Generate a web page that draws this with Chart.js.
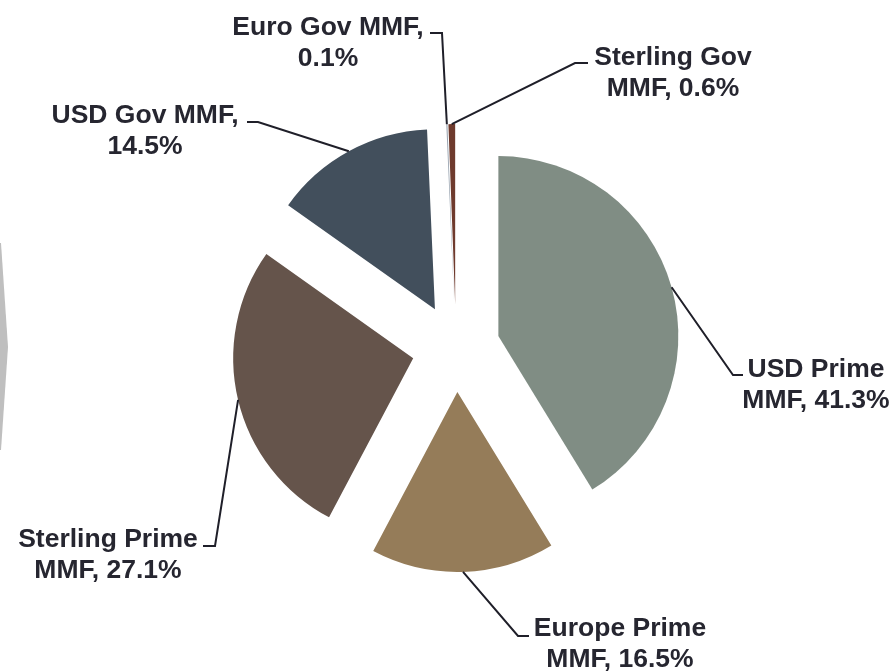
<!DOCTYPE html>
<html><head><meta charset="utf-8">
<script src="https://cdn.jsdelivr.net/npm/chart.js@4.4.1/dist/chart.umd.min.js"></script>
<style>html,body{margin:0;padding:0;background:#fff;} canvas{display:block;}</style>
</head><body>
<canvas id="c" width="895" height="671"></canvas>
<script>
// ---- data ----
const categories = ['USD Prime MMF', 'Europe Prime MMF', 'Sterling Prime MMF', 'USD Gov MMF', 'Euro Gov MMF', 'Sterling Gov MMF'];
const shares = [41.3, 16.5, 27.1, 14.5, 0.1, 0.6];
const sliceColors = ['#808D84', '#957C59', '#65544B', '#424F5C', '#9AA5B1', '#6E3A2D'];

// ---- label layout (positions only) ----
const labelLayout = [
  { cx: 816, y: 377, breakAt: 2, elbow: [733, 375], end: [743, 375] },
  { cx: 620, y: 636, breakAt: 2, elbow: [518, 636], end: [529, 636] },
  { cx: 108, y: 547, breakAt: 2, elbow: [215, 546], end: [203, 546] },
  { cx: 145, y: 123, breakAt: 3, elbow: [258, 122], end: [247, 122] },
  { cx: 328, y: 35,  breakAt: 3, elbow: [442, 33],  end: [430, 33] },
  { cx: 673, y: 65,  breakAt: 2, elbow: [575, 63],  end: [588, 63] }
];

const decoPlugin = {
  id: 'deco',
  beforeDraw(chart) {
    const ctx = chart.ctx;
    ctx.save();
    ctx.fillStyle = '#BFBFBF';
    ctx.beginPath();
    ctx.moveTo(0, 243);
    ctx.lineTo(1, 243);
    ctx.lineTo(8, 347);
    ctx.lineTo(1, 450);
    ctx.lineTo(0, 450);
    ctx.closePath();
    ctx.fill();
    ctx.restore();
  }
};

const explodePlugin = {
  id: 'explode',
  beforeDatasetsDraw(chart, args, opts) {
    const meta = chart.getDatasetMeta(0);
    const ca = chart.chartArea;
    const cx = (ca.left + ca.right) / 2, cy = (ca.top + ca.bottom) / 2;
    meta.data.forEach(arc => {
      const mid = (arc.startAngle + arc.endAngle) / 2;
      arc.x = cx + Math.cos(mid) * opts.distance;
      arc.y = cy + Math.sin(mid) * opts.distance;
    });
  }
};

const labelPlugin = {
  id: 'sliceLabels',
  afterDatasetsDraw(chart, args, opts) {
    const ctx = chart.ctx;
    const meta = chart.getDatasetMeta(0);
    const ds = chart.data.datasets[0];
    meta.data.forEach((arc, i) => {
      const L = opts.layout[i];
      const mid = (arc.startAngle + arc.endAngle) / 2;
      const sx = arc.x + Math.cos(mid) * arc.outerRadius;
      const sy = arc.y + Math.sin(mid) * arc.outerRadius;
      ctx.save();
      ctx.strokeStyle = '#1F1F29';
      ctx.lineWidth = 2;
      ctx.lineJoin = 'miter';
      ctx.beginPath();
      ctx.moveTo(sx, sy);
      ctx.lineTo(L.elbow[0], L.elbow[1]);
      ctx.lineTo(L.end[0], L.end[1]);
      ctx.stroke();
      const full = chart.data.labels[i] + ', ' + ds.data[i].toFixed(1) + '%';
      const words = full.split(' ');
      const lines = [words.slice(0, L.breakAt).join(' '), words.slice(L.breakAt).join(' ')];
      ctx.fillStyle = '#262630';
      ctx.font = "bold 26.5px 'Liberation Sans', Arial, sans-serif";
      ctx.textAlign = 'center';
      ctx.textBaseline = 'alphabetic';
      lines.forEach((t, k) => ctx.fillText(t, L.cx, L.y + k * 31));
      ctx.restore();
    });
  }
};

new Chart(document.getElementById('c'), {
  type: 'pie',
  data: {
    labels: categories,
    datasets: [{
      data: shares,
      backgroundColor: sliceColors,
      borderWidth: 0,
      radius: 180
    }]
  },
  options: {
    responsive: false,
    animation: false,
    events: [],
    layout: { padding: { left: 17, top: 25, right: 0, bottom: 0 } },
    plugins: {
      legend: { display: false },
      tooltip: { enabled: false },
      explode: { distance: 44 },
      sliceLabels: { layout: labelLayout }
    }
  },
  plugins: [decoPlugin, explodePlugin, labelPlugin]
});
</script>
</body></html>
